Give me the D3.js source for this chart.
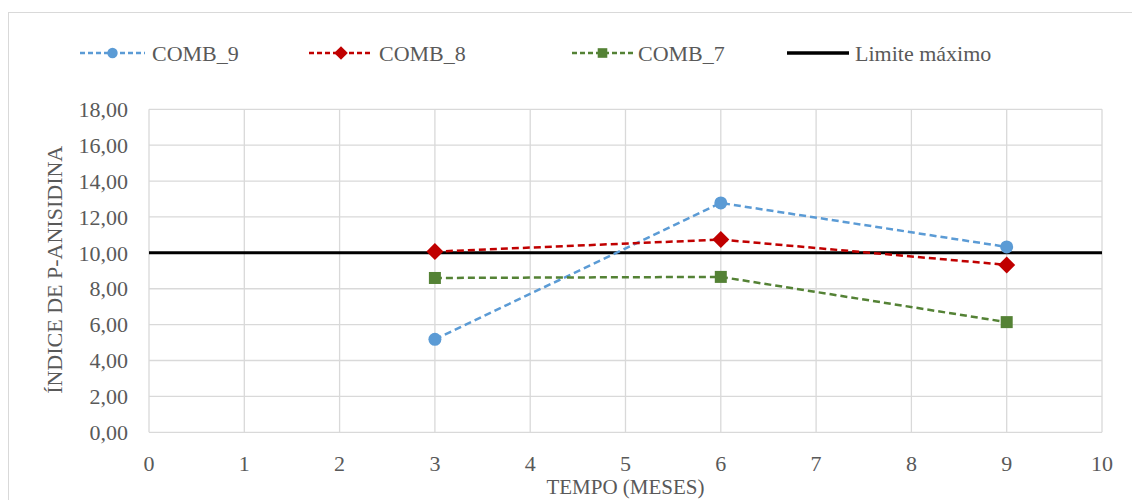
<!DOCTYPE html>
<html>
<head>
<meta charset="utf-8">
<script src="https://cdn.jsdelivr.net/npm/d3@7"></script>
<style>
  body { margin: 0; background: #fff; }
  svg text { font-family: "Liberation Serif", "DejaVu Serif", "Times New Roman", serif; fill: #595959; }
</style>
</head>
<body>
<div id="chart"></div>
<script>
// data
const months = [3, 6, 9];
const comb9 = [5.18, 12.78, 10.33];
const comb8 = [10.07, 10.74, 9.33];
const comb7 = [8.6, 8.66, 6.14];
const limit = 10;
const xTicks = [0, 1, 2, 3, 4, 5, 6, 7, 8, 9, 10];
const yTicks = [0, 2, 4, 6, 8, 10, 12, 14, 16, 18];

const series = [
  { name: "COMB_9", values: comb9, color: "#5B9BD5", shape: "circle" },
  { name: "COMB_8", values: comb8, color: "#C00000", shape: "diamond" },
  { name: "COMB_7", values: comb7, color: "#548235", shape: "square" }
];

const width = 1132, height = 500;
const plotLeft = 149, plotRight = 1102, plotTop = 109.3, plotBottom = 432.3;
const serif = "'Liberation Serif', 'DejaVu Serif', serif";
const fs = "22px";

const svg = d3.select("#chart").append("svg")
  .attr("width", width)
  .attr("height", height)
  .attr("font-family", serif);

// chart frame
svg.append("rect")
  .attr("x", 8.5).attr("y", 12.5)
  .attr("width", 1140).attr("height", 520)
  .attr("fill", "none")
  .attr("stroke", "#d9d9d9");

const x = d3.scaleLinear().domain([0, 10]).range([plotLeft, plotRight]);
const y = d3.scaleLinear().domain([0, 18]).range([plotBottom, plotTop]);

// grid
svg.append("g").selectAll("line")
  .data(yTicks)
  .enter().append("line")
  .attr("x1", plotLeft).attr("x2", plotRight)
  .attr("y1", d => y(d)).attr("y2", d => y(d))
  .attr("stroke", "#d9d9d9").attr("stroke-width", 1.3);

svg.append("g").selectAll("line")
  .data(xTicks)
  .enter().append("line")
  .attr("x1", d => x(d)).attr("x2", d => x(d))
  .attr("y1", plotTop).attr("y2", plotBottom)
  .attr("stroke", "#d9d9d9").attr("stroke-width", 1.3);

// axes labels
const fmt = d => d.toFixed(2).replace(".", ",");
svg.append("g").selectAll("text")
  .data(yTicks)
  .enter().append("text")
  .attr("x", 128)
  .attr("y", d => y(d))
  .attr("dy", "0.35em")
  .attr("text-anchor", "end")
  .style("font-family", serif)
  .style("font-size", fs)
  .text(fmt);

svg.append("g").selectAll("text")
  .data(xTicks)
  .enter().append("text")
  .attr("x", d => x(d))
  .attr("y", 463)
  .attr("dy", "0.35em")
  .attr("text-anchor", "middle")
  .style("font-family", serif)
  .style("font-size", fs)
  .text(d => d);

svg.append("text")
  .attr("x", (plotLeft + plotRight) / 2)
  .attr("y", 494)
  .attr("text-anchor", "middle")
  .style("font-family", serif)
  .style("font-size", "21px")
  .text("TEMPO (MESES)");

svg.append("text")
  .attr("transform", "translate(54," + ((plotTop + plotBottom) / 2 - 1) + ") rotate(-90)")
  .attr("dy", "0.35em")
  .attr("text-anchor", "middle")
  .style("font-family", serif)
  .style("font-size", fs)
  .text("ÍNDICE DE P-ANISIDINA");

// limit line
svg.append("line")
  .attr("x1", x(0)).attr("x2", x(10))
  .attr("y1", y(limit)).attr("y2", y(limit))
  .attr("stroke", "#000").attr("stroke-width", 3);

const line = d3.line().x(d => x(d[0])).y(d => y(d[1]));

function drawMarker(g, shape, color, cx, cy, k) {
  if (shape === "circle") {
    g.append("circle").attr("cx", cx).attr("cy", cy).attr("r", 6.5 * k).attr("fill", color);
  } else if (shape === "diamond") {
    const h = 8.5 * k;
    g.append("path")
      .attr("d", `M${cx},${cy - h}L${cx + h},${cy}L${cx},${cy + h}L${cx - h},${cy}Z`)
      .attr("fill", color);
  } else {
    const s = 12 * k;
    g.append("rect").attr("x", cx - s / 2).attr("y", cy - s / 2)
      .attr("width", s).attr("height", s).attr("fill", color);
  }
}

series.forEach(s => {
  const pts = months.map((m, i) => [m, s.values[i]]);
  const g = svg.append("g");
  g.append("path")
    .attr("d", line(pts))
    .attr("fill", "none")
    .attr("stroke", s.color)
    .attr("stroke-width", 2.5)
    .attr("stroke-dasharray", "7,4");
  pts.forEach(p => drawMarker(g, s.shape, s.color, x(p[0]), y(p[1]), 1));
});

// legend
const legendY = 53;
const legendItems = [
  { name: "COMB_9", color: "#5B9BD5", shape: "circle", x0: 80, x1: 145, tx: 152 },
  { name: "COMB_8", color: "#C00000", shape: "diamond", x0: 309, x1: 373, tx: 379 },
  { name: "COMB_7", color: "#548235", shape: "square", x0: 572, x1: 633, tx: 638 },
  { name: "Limite máximo", color: "#000", shape: null, x0: 787, x1: 849, tx: 855 }
];
legendItems.forEach(it => {
  const g = svg.append("g");
  g.append("line")
    .attr("x1", it.x0).attr("x2", it.x1)
    .attr("y1", legendY).attr("y2", legendY)
    .attr("stroke", it.color)
    .attr("stroke-width", it.shape ? 2.5 : 3.5)
    .attr("stroke-dasharray", it.shape ? "5,3" : null);
  if (it.shape) drawMarker(g, it.shape, it.color, (it.x0 + it.x1) / 2, legendY, 0.8);
  g.append("text")
    .attr("x", it.tx)
    .attr("y", legendY)
    .attr("dy", "0.35em")
    .style("font-family", serif)
    .style("font-size", fs)
    .text(it.name);
});
</script>
</body>
</html>
